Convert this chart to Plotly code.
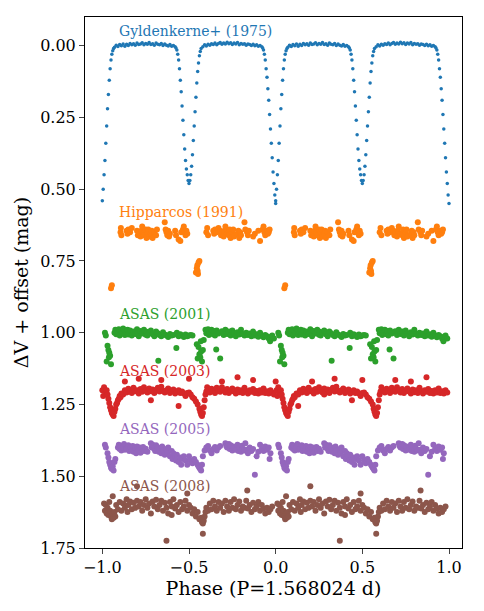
import plotly.graph_objects as go

# phase-folded data for one cycle (-1..0); plotted twice (phase and phase+1)
gyl_phase = [-1.0, -0.995, -0.99, -0.985, -0.98, -0.975, -0.97, -0.965, -0.96, -0.955, -0.95, -0.945, -0.94, -0.935,
             -0.93, -0.92, -0.91, -0.90, -0.89, -0.88, -0.87, -0.86, -0.85, -0.84, -0.83, -0.82, -0.81, -0.80,
             -0.79, -0.78, -0.77, -0.76, -0.75, -0.74, -0.73, -0.72, -0.71, -0.70, -0.69, -0.68, -0.67, -0.66,
             -0.65, -0.64, -0.63, -0.62, -0.61, -0.60, -0.59, -0.58, -0.575,
             -0.57, -0.565, -0.56, -0.555, -0.55, -0.545, -0.54, -0.535, -0.53, -0.525, -0.52, -0.515, -0.51, -0.505, -0.50,
             -0.495, -0.49, -0.485, -0.48, -0.475, -0.47, -0.465, -0.46, -0.455, -0.45, -0.445, -0.44, -0.435, -0.43,
             -0.42, -0.41, -0.40, -0.39, -0.38, -0.37, -0.36, -0.35, -0.34, -0.33, -0.32, -0.31, -0.30, -0.29,
             -0.28, -0.27, -0.26, -0.25, -0.24, -0.23, -0.22, -0.21, -0.20, -0.19, -0.18, -0.17, -0.16, -0.15,
             -0.14, -0.13, -0.12, -0.11, -0.10, -0.09, -0.08, -0.075,
             -0.07, -0.065, -0.06, -0.055, -0.05, -0.045, -0.04, -0.035, -0.03, -0.025, -0.02, -0.015, -0.01, -0.005, 0.0]
gyl_dv = [0.54, 0.50, 0.45, 0.40, 0.34, 0.28, 0.22, 0.17, 0.12, 0.08, 0.05, 0.03, 0.018, 0.01,
          0.005, -0.002, 0.003, -0.004, 0.0, -0.006, 0.002, -0.005, -0.001, -0.008, -0.003, -0.007, -0.002, -0.009,
          -0.004, -0.006, -0.010, -0.003, -0.008, -0.005, -0.011, -0.004, -0.007, -0.002, -0.009, -0.005, -0.003, -0.008,
          -0.001, -0.006, -0.002, 0.001, -0.004, 0.002, -0.001, 0.004, 0.008,
          0.015, 0.03, 0.05, 0.08, 0.12, 0.16, 0.21, 0.26, 0.31, 0.36, 0.40, 0.43, 0.45, 0.47, 0.48,
          0.47, 0.45, 0.42, 0.38, 0.33, 0.28, 0.23, 0.18, 0.13, 0.09, 0.06, 0.035, 0.02, 0.01,
          0.004, -0.003, 0.001, -0.005, -0.002, -0.007, -0.004, -0.009, -0.003, -0.008, -0.011, -0.005, -0.009, -0.006,
          -0.012, -0.007, -0.010, -0.004, -0.009, -0.006, -0.011, -0.003, -0.008, -0.005, -0.007, -0.002, -0.006, -0.004,
          -0.001, -0.005, 0.0, -0.003, 0.002, -0.001, 0.004, 0.008,
          0.015, 0.03, 0.05, 0.08, 0.11, 0.15, 0.19, 0.24, 0.29, 0.34, 0.39, 0.44, 0.48, 0.52, 0.55]

hip_phase = [-0.95, -0.945, -0.895, -0.893, -0.89, -0.86, -0.855, -0.85, -0.84, -0.83, -0.80, -0.795, -0.79, -0.78,
             -0.775, -0.77, -0.765, -0.76, -0.75, -0.745, -0.74, -0.735, -0.73, -0.72, -0.715, -0.71, -0.70, -0.69,
             -0.685, -0.64, -0.635, -0.63, -0.625, -0.62, -0.615, -0.61, -0.58, -0.575, -0.56, -0.55, -0.545,
             -0.535, -0.53, -0.525, -0.52, -0.515, -0.51, -0.46, -0.455, -0.452, -0.45, -0.448, -0.445, -0.44,
             -0.40, -0.395, -0.39, -0.36, -0.355, -0.35, -0.34, -0.33, -0.32, -0.315, -0.31, -0.30, -0.295, -0.29,
             -0.28, -0.27, -0.265, -0.26, -0.25, -0.245, -0.24, -0.22, -0.215, -0.21, -0.205, -0.2, -0.18, -0.175,
             -0.165, -0.16, -0.155, -0.13, -0.12, -0.10, -0.09, -0.075, -0.07, -0.065, -0.06, -0.05, -0.045, -0.04, -0.035]
hip_dv = [0.195, 0.185, 0.0, -0.015, 0.01, -0.005, 0.005, -0.01, 0.0, -0.015, -0.005, 0.01, 0.0, 0.015,
          -0.005, -0.02, 0.005, 0.01, -0.01, 0.02, 0.0, -0.01, 0.015, 0.005, -0.005, 0.02, 0.0, 0.01,
          -0.01, -0.035, -0.01, 0.0, 0.01, -0.005, 0.015, 0.005, -0.005, 0.01, 0.025, 0.03, 0.0,
          -0.01, -0.02, 0.0, 0.01, -0.005, 0.005, 0.14, 0.125, 0.115, 0.135, 0.145, 0.105, 0.1,
          0.0, -0.015, 0.01, -0.005, 0.005, -0.01, 0.0, -0.015, -0.005, 0.01, 0.0, 0.015, -0.005, -0.02,
          0.005, 0.01, -0.01, 0.02, 0.0, -0.01, 0.015, 0.005, -0.005, 0.02, 0.0, 0.01, -0.035, -0.01,
          0.0, 0.01, -0.005, 0.015, 0.005, -0.005, 0.03, -0.01, -0.02, 0.0, 0.01, -0.005, 0.005, 0.0, -0.01]

a01_phase = [-0.985, -0.98, -0.975, -0.97, -0.965, -0.962, -0.96, -0.955, -0.95,
             -0.93, -0.925, -0.92, -0.91, -0.905, -0.9, -0.89, -0.885, -0.88, -0.87, -0.86, -0.855, -0.85, -0.84,
             -0.83, -0.82, -0.81, -0.8, -0.795, -0.79, -0.78, -0.77, -0.76, -0.75, -0.745, -0.74, -0.73, -0.72,
             -0.71, -0.7, -0.69, -0.68, -0.677, -0.67, -0.66, -0.65, -0.64, -0.63, -0.62, -0.61, -0.6, -0.59,
             -0.573, -0.57, -0.56, -0.55, -0.54, -0.53, -0.52, -0.51, -0.5, -0.49, -0.48,
             -0.455, -0.45, -0.445, -0.44, -0.435, -0.432, -0.43, -0.425, -0.42, -0.415,
             -0.405, -0.4, -0.39, -0.385, -0.38, -0.37, -0.36, -0.355, -0.35, -0.343, -0.34, -0.33, -0.32, -0.31,
             -0.3, -0.29, -0.28, -0.27, -0.26, -0.25, -0.24, -0.23, -0.22, -0.21, -0.2, -0.19, -0.18, -0.17,
             -0.16, -0.15, -0.14, -0.13, -0.12, -0.11, -0.1, -0.09, -0.08, -0.07, -0.06, -0.05, -0.04, -0.032, -0.03, -0.02, -0.01]
a01_dv = [0.0, 0.01, 0.1, 0.045, 0.06, 0.085, 0.07, 0.08, 0.11,
          0.0, -0.01, 0.005, 0.0, -0.012, 0.01, -0.005, 0.003, -0.015, 0.008, -0.002, -0.01, 0.006, -0.008,
          0.01, -0.004, 0.004, -0.012, 0.0, 0.012, -0.006, 0.003, -0.01, 0.007, -0.003, 0.01, 0.0, -0.008,
          0.005, 0.012, -0.004, 0.002, 0.098, 0.008, 0.012, -0.002, 0.006, 0.01, 0.015, 0.004, 0.01, 0.008,
          0.053, 0.0, 0.012, 0.005, 0.01, 0.015, 0.006, 0.012, 0.01, 0.008, 0.01,
          0.04, 0.09, 0.05, 0.075, 0.085, 0.03, 0.065, 0.1, 0.06, 0.025,
          -0.01, 0.002, -0.012, 0.008, 0.0, -0.01, 0.005, -0.006, 0.01, 0.058, -0.008, 0.003, 0.09, -0.005,
          0.008, -0.01, 0.004, -0.004, 0.01, -0.008, 0.002, 0.012, -0.002, 0.006, -0.01, 0.004, 0.01, 0.0,
          0.008, 0.003, 0.012, -0.004, 0.01, 0.005, 0.014, 0.0, 0.01, 0.016, 0.008, 0.012, 0.02, 0.03, 0.015, 0.01, 0.02]

a03_phase = [-1.0, -0.995, -0.99, -0.985, -0.98, -0.975, -0.97, -0.965, -0.96, -0.955, -0.95, -0.945, -0.94,
             -0.935, -0.93, -0.925, -0.92, -0.915, -0.91, -0.905, -0.9, -0.895, -0.89, -0.88, -0.87, -0.86, -0.85,
             -0.84, -0.83, -0.82, -0.81, -0.8, -0.79, -0.78, -0.77, -0.76, -0.75, -0.74, -0.73, -0.72, -0.71,
             -0.7, -0.69, -0.68, -0.67, -0.66, -0.65, -0.64, -0.63, -0.62, -0.61, -0.6, -0.59, -0.58, -0.57,
             -0.56, -0.55, -0.54, -0.53, -0.52, -0.51, -0.5, -0.49, -0.48, -0.47, -0.46, -0.45, -0.44, -0.435,
             -0.43, -0.425, -0.42, -0.415, -0.41, -0.405, -0.4, -0.395, -0.39, -0.38, -0.37, -0.36, -0.35, -0.34,
             -0.33, -0.32, -0.31, -0.3, -0.29, -0.28, -0.27, -0.26, -0.25, -0.24, -0.23, -0.22, -0.21, -0.2,
             -0.19, -0.18, -0.17, -0.16, -0.15, -0.14, -0.13, -0.12, -0.11, -0.1, -0.09, -0.08, -0.07, -0.06,
             -0.05, -0.04, -0.03, -0.02, -0.01, -0.72, -0.56, -0.87, -0.79, -0.66, -0.31, -0.22, -0.13, -0.5]
a03_dv = [0.0, 0.02, -0.01, 0.005, 0.01, 0.0, 0.015, 0.03, 0.045, 0.06, 0.07, 0.08, 0.085,
          0.09, 0.075, 0.065, 0.05, 0.045, 0.035, 0.03, 0.02, 0.025, 0.012, 0.015, 0.0, 0.008, -0.005,
          0.005, 0.01, -0.008, 0.004, 0.0, 0.012, -0.004, 0.006, -0.01, 0.002, 0.008, -0.006, 0.004, -0.002,
          0.01, 0.0, -0.008, 0.005, -0.012, 0.003, 0.008, 0.0, -0.006, 0.01, 0.004, -0.002, 0.012, 0.006,
          0.0, 0.01, 0.005, 0.012, 0.02, 0.01, 0.008, 0.015, 0.025, 0.03, 0.04, 0.05, 0.065, 0.075,
          0.085, 0.09, 0.08, 0.06, 0.035, 0.015, 0.005, -0.01, 0.0, 0.008, -0.005, 0.004, 0.01, -0.008,
          0.002, 0.006, -0.01, 0.0, 0.008, -0.004, 0.01, 0.003, -0.006, 0.005, 0.012, -0.002, 0.007, 0.0,
          0.01, -0.008, 0.004, 0.012, 0.0, 0.006, -0.004, 0.01, 0.003, 0.012, 0.0, 0.008, -0.006, 0.01,
          0.004, 0.012, 0.0, 0.008, 0.015, 0.035, 0.055, -0.03, -0.04, -0.035, -0.03, -0.045, -0.035, -0.04, -0.03]

a05_phase = [-0.985, -0.98, -0.97, -0.965, -0.96, -0.955, -0.95, -0.945, -0.94, -0.935, -0.93, -0.925,
             -0.91, -0.905, -0.9, -0.895, -0.89, -0.88, -0.875, -0.87, -0.86, -0.85, -0.845, -0.84, -0.83, -0.825,
             -0.82, -0.81, -0.805, -0.8, -0.79, -0.785, -0.78, -0.77, -0.765, -0.76, -0.75, -0.74,
             -0.72, -0.715, -0.71, -0.7, -0.695, -0.69, -0.68, -0.675, -0.67, -0.66, -0.655, -0.65, -0.64, -0.63,
             -0.625, -0.62, -0.61, -0.6, -0.595, -0.59, -0.58, -0.575, -0.57, -0.56, -0.55, -0.545, -0.54,
             -0.53, -0.52, -0.51, -0.5, -0.49, -0.48, -0.47, -0.46, -0.45, -0.445, -0.44, -0.435, -0.43,
             -0.425, -0.42, -0.41, -0.4, -0.39, -0.38, -0.37, -0.36, -0.35, -0.34, -0.33, -0.32,
             -0.29, -0.285, -0.28, -0.27, -0.265, -0.26, -0.25, -0.245, -0.24, -0.23, -0.22, -0.215, -0.21,
             -0.2, -0.195, -0.19, -0.18, -0.175, -0.17, -0.16, -0.15, -0.14, -0.13, -0.12, -0.11, -0.1, -0.09,
             -0.08, -0.07, -0.06, -0.05, -0.04, -0.03, -0.035]
a05_dv = [-0.01, 0.0, 0.02, 0.035, 0.05, 0.06, 0.07, 0.075, 0.065, 0.08, 0.05, 0.04,
          0.0, -0.01, 0.005, -0.005, 0.01, 0.0, -0.012, 0.008, 0.005, -0.008, 0.012, 0.0, 0.01, -0.005,
          0.015, 0.002, 0.02, -0.004, 0.01, 0.0, 0.018, 0.006, -0.002, 0.012, 0.004, 0.015,
          -0.015, 0.0, -0.01, 0.005, 0.012, -0.008, 0.0, 0.015, 0.008, 0.02, -0.004, 0.01, 0.025, 0.005,
          0.018, 0.0, 0.03, 0.012, 0.04, 0.02, 0.03, 0.045, 0.025, 0.05, 0.035, 0.06, 0.04,
          0.03, 0.045, 0.06, 0.03, 0.045, 0.055, 0.04, 0.05, 0.06, 0.065, 0.07, 0.075, 0.08,
          0.06, 0.03, 0.01, 0.0, -0.005, 0.01, 0.02, 0.005, -0.002, 0.01, 0.0, -0.005,
          -0.015, -0.005, 0.0, -0.012, 0.005, -0.008, 0.01, -0.004, 0.002, 0.008, -0.01, 0.012, 0.0,
          0.015, -0.006, 0.004, 0.01, -0.015, 0.008, 0.02, 0.0, 0.012, 0.005, 0.095, 0.03, 0.015, -0.01,
          0.005, 0.012, -0.004, 0.008, 0.0, 0.02, 0.04]

a08_phase = [-0.99, -0.985, -0.98, -0.975, -0.97, -0.965, -0.96, -0.955, -0.95, -0.945, -0.94, -0.935, -0.93,
             -0.925, -0.92, -0.91, -0.9, -0.89, -0.88, -0.87, -0.86, -0.855, -0.85, -0.84, -0.83, -0.82, -0.81,
             -0.8, -0.79, -0.78, -0.77, -0.76, -0.75, -0.74, -0.73, -0.72, -0.71, -0.7, -0.69, -0.68, -0.67,
             -0.66, -0.65, -0.64, -0.63, -0.62, -0.61, -0.6, -0.59, -0.58, -0.57, -0.56, -0.55, -0.54, -0.53,
             -0.52, -0.51, -0.5, -0.49, -0.48, -0.47, -0.46, -0.45, -0.44, -0.43, -0.425, -0.42, -0.415, -0.41,
             -0.405, -0.4, -0.39, -0.38, -0.37, -0.36, -0.35, -0.34, -0.33, -0.32, -0.31, -0.3, -0.29, -0.28,
             -0.27, -0.26, -0.25, -0.24, -0.23, -0.22, -0.21, -0.2, -0.19, -0.18, -0.17, -0.16, -0.15, -0.14,
             -0.13, -0.12, -0.11, -0.1, -0.09, -0.08, -0.07, -0.06, -0.05, -0.04, -0.03, -0.02,
             -0.94, -0.8, -0.51, -0.164, -0.42, -0.63, -0.6]
a08_dv = [-0.005, 0.02, 0.0, 0.03, 0.01, 0.035, -0.01, 0.02, 0.04, 0.05, 0.03, 0.045, 0.025,
          0.04, 0.0, 0.015, -0.01, 0.02, -0.005, 0.01, -0.02, 0.025, 0.0, -0.012, 0.015, -0.008, 0.01,
          -0.015, 0.005, -0.01, 0.02, 0.0, -0.02, 0.01, -0.005, 0.03, -0.012, 0.005, -0.018, 0.015, 0.0,
          -0.015, 0.02, -0.008, 0.01, 0.03, -0.01, 0.005, -0.02, 0.012, 0.0, 0.025, -0.01, 0.015, 0.005,
          -0.015, 0.02, 0.0, 0.01, 0.03, 0.015, 0.04, 0.025, 0.05, 0.045, 0.06, 0.065, 0.055, 0.04,
          0.025, 0.01, 0.02, -0.005, 0.015, -0.015, 0.005, 0.02, -0.01, 0.01, -0.005, 0.025, -0.015, 0.005,
          0.02, -0.01, 0.01, -0.02, 0.015, 0.0, -0.012, 0.02, 0.005, 0.01, -0.015, 0.012, 0.0, 0.025,
          -0.008, 0.015, 0.005, -0.01, 0.02, 0.0, 0.012, 0.03, 0.01, 0.025, 0.015, 0.005,
          -0.03, -0.065, -0.04, -0.05, 0.1, 0.125, 0.035]

series = [
    ("Gyldenkerne+ (1975)", gyl_phase, gyl_dv, 0.0, "#1f77b4", 3.5, -0.05),
    ("Hipparcos (1991)", hip_phase, hip_dv, 0.65, "#ff7f0e", 6, 0.58),
    ("ASAS (2001)", a01_phase, a01_dv, 1.0, "#2ca02c", 6, 0.935),
    ("ASAS (2003)", a03_phase, a03_dv, 1.2, "#d62728", 6, 1.135),
    ("ASAS (2005)", a05_phase, a05_dv, 1.4, "#9467bd", 6, 1.335),
    ("ASAS (2008)", a08_phase, a08_dv, 1.6, "#8c564b", 6, 1.535),
]

fig = go.Figure()
for name, ph, dv, off, col, sz, ly in series:
    x = list(ph) + [p + 1 for p in ph]
    y = [v + off for v in dv] * 2
    fig.add_trace(go.Scatter(x=x, y=y, mode='markers', name=name,
                             marker=dict(color=col, size=sz, line=dict(width=0))))
    fig.add_annotation(x=-0.915, y=ly, text=name, showarrow=False, xanchor='left',
                       font=dict(color=col, size=14))

fig.update_layout(
    width=476, height=603,
    margin=dict(l=77, r=22, t=9, b=63),
    plot_bgcolor='white', paper_bgcolor='white',
    showlegend=False,
    font=dict(family="DejaVu Serif", size=16, color='black'),
    xaxis=dict(range=[-1.1, 1.075], tickvals=[-1.0, -0.5, 0.0, 0.5, 1.0],
               ticktext=["\u22121.0", "\u22120.5", "0.0", "0.5", "1.0"], automargin=False,
               showgrid=False, zeroline=False, showline=True, linecolor='black', mirror=True,
               ticks='outside', ticklen=5, title=dict(text="Phase (P=1.568024 d)", standoff=4)),
    yaxis=dict(range=[1.75, -0.1], tickvals=[0, 0.25, 0.5, 0.75, 1.0, 1.25, 1.5, 1.75], automargin=False,
               tickformat='.2f', showgrid=False, zeroline=False, showline=True, linecolor='black',
               mirror=True, ticks='outside', ticklen=5, title=dict(text="\u0394V + offset (mag)", standoff=6)),
)

fig.write_html("out.html")
